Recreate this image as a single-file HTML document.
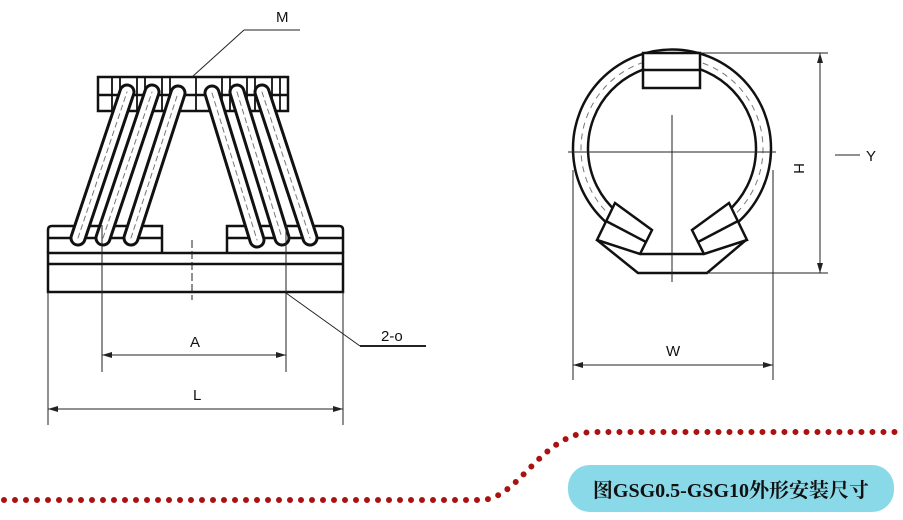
<!DOCTYPE html>
<html><head><meta charset="utf-8"><style>
html,body{margin:0;padding:0;background:#fff;width:903px;height:520px;overflow:hidden}
</style></head><body>
<svg width="903" height="520" viewBox="0 0 903 520" xmlns="http://www.w3.org/2000/svg" font-family="Liberation Sans, sans-serif">
<g stroke="#111" fill="none" stroke-width="2.5">
<rect x="98" y="77" width="190" height="34" fill="#fff"/>
<line x1="98" y1="95" x2="288" y2="95"/>
<g stroke-width="1.8">
<line x1="112" y1="77" x2="112" y2="111"/><line x1="120" y1="77" x2="120" y2="111"/>
<line x1="137" y1="77" x2="137" y2="111"/><line x1="145" y1="77" x2="145" y2="111"/>
<line x1="162" y1="77" x2="162" y2="111"/><line x1="170" y1="77" x2="170" y2="111"/>
<line x1="196" y1="77" x2="196" y2="111"/>
<line x1="222" y1="77" x2="222" y2="111"/><line x1="230" y1="77" x2="230" y2="111"/>
<line x1="247" y1="77" x2="247" y2="111"/><line x1="255" y1="77" x2="255" y2="111"/>
<line x1="272" y1="77" x2="272" y2="111"/><line x1="280" y1="77" x2="280" y2="111"/>
</g>
<path d="M48,253 V230 Q48,226 52,226 H162 V253" fill="#fff"/>
<line x1="48" y1="238" x2="162" y2="238"/>
<path d="M227,253 V226 H339 Q343,226 343,230 V253" fill="#fff"/>
<line x1="227" y1="238" x2="343" y2="238"/>
<rect x="48" y="253" width="295" height="39" fill="#fff"/>
<line x1="48" y1="264" x2="343" y2="264"/>
</g>
<g stroke-linecap="round">
<g stroke="#111" stroke-width="17">
<line x1="78" y1="238" x2="127" y2="92"/><line x1="103" y1="238" x2="152" y2="92"/><line x1="131" y1="238" x2="178" y2="93"/>
<line x1="212" y1="93" x2="257" y2="240"/><line x1="237" y1="92" x2="282" y2="238"/><line x1="262" y1="92" x2="310" y2="238"/>
</g>
<g stroke="#fff" stroke-width="11">
<line x1="78" y1="238" x2="127" y2="92"/><line x1="103" y1="238" x2="152" y2="92"/><line x1="131" y1="238" x2="178" y2="93"/>
<line x1="212" y1="93" x2="257" y2="240"/><line x1="237" y1="92" x2="282" y2="238"/><line x1="262" y1="92" x2="310" y2="238"/>
</g>
<g stroke="#777" stroke-width="1" stroke-dasharray="5,4">
<line x1="78" y1="238" x2="127" y2="92"/><line x1="103" y1="238" x2="152" y2="92"/><line x1="131" y1="238" x2="178" y2="93"/>
<line x1="212" y1="93" x2="257" y2="240"/><line x1="237" y1="92" x2="282" y2="238"/><line x1="262" y1="92" x2="310" y2="238"/>
</g>
</g>
<g stroke="#222" stroke-width="1" fill="none">
<line x1="102" y1="225" x2="102" y2="372"/><line x1="286" y1="225" x2="286" y2="372"/>
<line x1="192" y1="240" x2="192" y2="300" stroke-dasharray="8,3"/>
<line x1="48" y1="292" x2="48" y2="425"/><line x1="343" y1="292" x2="343" y2="425"/>
<line x1="102" y1="355" x2="286" y2="355"/><line x1="48" y1="409" x2="343" y2="409"/>
<line x1="300" y1="30" x2="244" y2="30"/><line x1="244" y1="30" x2="192" y2="77"/>
<line x1="286" y1="293" x2="360" y2="346"/><line x1="360" y1="346" x2="426" y2="346" stroke-width="2"/>
</g>
<g fill="#222">
<path d="M102,355 l10,-3 v6z"/><path d="M286,355 l-10,-3 v6z"/>
<path d="M48,409 l10,-3 v6z"/><path d="M343,409 l-10,-3 v6z"/>
</g>
<g font-size="15" fill="#111">
<text x="190" y="347">A</text><text x="193" y="400">L</text>
<text x="276" y="22">M</text><text x="381" y="341">2-o</text>
</g>
<g stroke="#777" stroke-width="1" fill="none" stroke-dasharray="6,5">
<path d="M613,218 A91,91 0 1 1 731,218"/>
</g>
<g stroke="#111" stroke-width="2.5" fill="none">
<path d="M608,224 A99,99 0 1 1 736,224"/>
<path d="M617,212 A84,84 0 1 1 727,212"/>
<path d="M597,240 L638,273 H707 L746,240"/>
<line x1="641" y1="254" x2="703" y2="254"/>
<rect x="643" y="53" width="57" height="35" fill="#fff"/>
<line x1="643" y1="70" x2="700" y2="70"/>
<polygon points="615,203 652,230 640,254 597,240" fill="#fff"/>
<line x1="606" y1="221" x2="646" y2="242"/>
<polygon points="729,203 692,230 704,254 747,240" fill="#fff"/>
<line x1="738" y1="221" x2="698" y2="242"/>
</g>
<g stroke="#222" stroke-width="1" fill="none">
<line x1="568" y1="152" x2="776" y2="152"/>
<line x1="672" y1="115" x2="672" y2="282"/>
<line x1="700" y1="53" x2="828" y2="53"/><line x1="707" y1="273" x2="828" y2="273"/>
<line x1="820" y1="53" x2="820" y2="273"/>
<line x1="835" y1="155" x2="860" y2="155"/>
<line x1="573" y1="170" x2="573" y2="380"/><line x1="773" y1="170" x2="773" y2="380"/>
<line x1="573" y1="365" x2="773" y2="365"/>
</g>
<g fill="#222">
<path d="M820,53 l-3,10 h6z"/><path d="M820,273 l-3,-10 h6z"/>
<path d="M573,365 l10,-3 v6z"/><path d="M773,365 l-10,-3 v6z"/>
</g>
<g font-size="15" fill="#111">
<text x="666" y="356">W</text><text x="866" y="161">Y</text>
<text x="0" y="0" transform="translate(794,163) rotate(90)">H</text>
</g>
<path d="M4,500 H480 C520,500 540,432 595,432 H895" stroke="#a11" stroke-width="6" fill="none" stroke-linecap="round" stroke-dasharray="0,11"/>
<rect x="568" y="465" width="326" height="47" rx="22" fill="#8ad9e8"/>
<text x="731" y="497" text-anchor="middle" font-size="20" font-weight="bold" fill="#111" font-family="Liberation Serif, Noto Serif CJK SC, serif">图GSG0.5-GSG10外形安装尺寸</text>
</svg>
</body></html>
